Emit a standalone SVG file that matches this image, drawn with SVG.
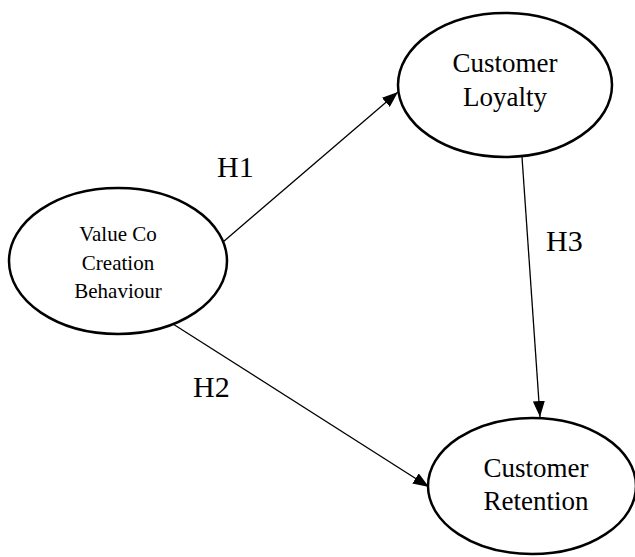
<svg xmlns="http://www.w3.org/2000/svg" width="635" height="557" viewBox="0 0 635 557">
  <style>
    .node ellipse { fill: #ffffff; stroke: #000000; stroke-width: 2.5; }
    .node text { font-family: "Liberation Serif", "Times New Roman", serif; fill: #000000; text-anchor: middle; }
    .big { font-size: 27px; }
    .small { font-size: 21px; }
    .edge { stroke: #000000; stroke-width: 1.3; fill: none; marker-end: url(#arrow); }
    .label { font-family: "Liberation Serif", "Times New Roman", serif; font-size: 30px; fill: #000000; }
  </style>
  <defs>
    <marker id="arrow" viewBox="0 0 16 12" refX="16" refY="6" markerWidth="16" markerHeight="12" markerUnits="userSpaceOnUse" orient="auto">
      <path d="M0,0 L16,6 L0,12 Z" fill="#000000"/>
    </marker>
  </defs>

  <rect width="635" height="557" fill="#ffffff"/>

  <!-- hypothesis paths -->
  <g id="connectors">
    <line class="edge" x1="223" y1="242" x2="398" y2="92"/>
    <line class="edge" x1="173" y1="324" x2="429" y2="487"/>
    <line class="edge" x1="522" y1="157" x2="540" y2="417"/>
  </g>

  <g id="labels">
    <text class="label" x="217" y="177">H1</text>
    <text class="label" x="193" y="397">H2</text>
    <text class="label" x="546" y="251">H3</text>
  </g>

  <g id="value-co-creation" class="node">
    <ellipse cx="118" cy="261" rx="109" ry="73"/>
    <text class="small" x="118" y="241">Value Co</text>
    <text class="small" x="118" y="270">Creation</text>
    <text class="small" x="118" y="298">Behaviour</text>
  </g>

  <g id="customer-loyalty" class="node">
    <ellipse cx="505" cy="85" rx="107" ry="72"/>
    <text class="big" x="505" y="72">Customer</text>
    <text class="big" x="505" y="106">Loyalty</text>
  </g>

  <g id="customer-retention" class="node">
    <ellipse cx="532" cy="486" rx="104" ry="68"/>
    <text class="big" x="536" y="477">Customer</text>
    <text class="big" x="536" y="510">Retention</text>
  </g>
</svg>
